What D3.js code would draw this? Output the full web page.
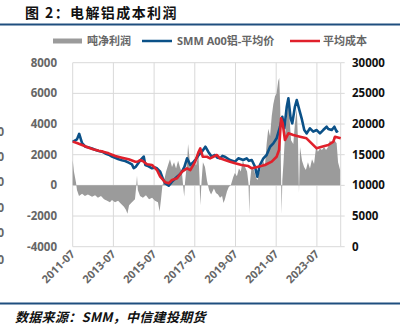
<!DOCTYPE html>
<html><head><meta charset="utf-8">
<script src="https://cdn.jsdelivr.net/npm/d3@7"></script>
<style>
html,body{margin:0;padding:0;background:#fff;}
svg{display:block;}
text{font-family:"Open Sans","Noto Sans CJK SC",sans-serif;}
</style></head>
<body><svg id="c" width="402" height="335"></svg>
<script>
// ---------- DATA ----------
const title = "图 2：电解铝成本利润";
const source = "数据来源：SMM，中信建投期货";
const seriesNames = ["吨净利润", "SMM A00铝-平均价", "平均成本"];
const xTickLabels = ["2011-07","2013-07","2015-07","2017-07","2019-07","2021-07","2023-07"];
const leftTicks = [8000, 6000, 4000, 2000, 0, -2000, -4000];
const rightTicks = [30000, 25000, 20000, 15000, 10000, 5000, 0];
const xDomain = [2011.5, 2024.67];
const ghostLabels = ["0","0","0","0","0","0"];
const ghostValues = [3500, 1870, 240, -1500, -3130, -4870];

// SMM A00 price (right axis), time in decimal years
const priceDates = [2011.50,2011.71,2011.82,2011.96,2012.12,2012.25,2012.45,2012.60,2012.78,2012.94,2013.10,2013.27,2013.43,2013.58,2013.76,2013.92,2014.08,2014.25,2014.41,2014.50,2014.59,2014.66,2014.78,2014.91,2014.99,2015.07,2015.23,2015.40,2015.54,2015.64,2015.80,2015.94,2016.05,2016.22,2016.38,2016.50,2016.63,2016.77,2016.87,2016.99,2017.12,2017.28,2017.45,2017.56,2017.69,2017.85,2018.02,2018.16,2018.33,2018.49,2018.62,2018.74,2018.86,2018.98,2019.23,2019.48,2019.64,2019.88,2020.05,2020.16,2020.30,2020.46,2020.57,2020.70,2020.87,2021.03,2021.20,2021.36,2021.52,2021.69,2021.80,2021.90,2022.02,2022.10,2022.21,2022.29,2022.42,2022.51,2022.64,2022.75,2022.88,2023.00,2023.16,2023.32,2023.49,2023.65,2023.81,2023.98,2024.06,2024.23,2024.36,2024.47,2024.54];
const priceValues = [17100,17500,18400,16900,16300,16200,16000,15800,15600,15500,15200,15000,14700,14500,14250,14100,13970,13700,13430,12800,13000,13320,13900,14400,14700,13300,13100,12780,12900,12780,12230,11000,10330,9950,10600,11000,11410,11800,12230,13000,14410,13320,13860,14300,14950,15490,16300,15490,14670,14950,14500,14410,14800,14670,14130,13860,14410,14130,14410,14000,14130,13040,11410,13320,14410,14950,16300,16850,17670,19560,21190,19300,22820,24190,20930,20110,22820,23910,22280,20930,19020,18480,19300,18750,19020,18480,19020,19560,19200,19020,19560,18750,18900];

// average cost (right axis)
const costDates = [2011.50,2011.71,2011.96,2012.29,2012.50,2012.78,2012.99,2013.27,2013.59,2013.92,2014.25,2014.58,2014.71,2014.82,2014.99,2015.15,2015.40,2015.64,2015.80,2016.05,2016.22,2016.38,2016.63,2016.87,2017.12,2017.28,2017.52,2017.69,2017.77,2017.89,2018.10,2018.25,2018.41,2018.58,2018.74,2018.98,2019.23,2019.48,2019.80,2020.13,2020.30,2020.62,2020.95,2021.28,2021.52,2021.64,2021.74,2021.82,2021.93,2022.10,2022.34,2022.67,2022.99,2023.24,2023.49,2023.74,2024.06,2024.31,2024.39,2024.67];
const costValues = [17130,16900,16580,16140,15900,15650,15500,15220,14790,14510,14250,13860,13900,14130,13860,13430,13320,12500,11410,10500,10330,10870,11150,12230,12780,12500,13860,15490,16040,14670,14670,14410,14670,14950,14410,14130,13860,13590,13320,13150,12780,13040,13320,13860,14670,15760,20930,20110,17390,18480,18210,17930,17670,16850,16040,16300,16580,17120,17930,17670];

// net profit per tonne (left axis)
const profitDates = [2011.50,2011.56,2011.66,2011.71,2011.81,2011.96,2012.10,2012.25,2012.45,2012.60,2012.74,2012.89,2013.04,2013.19,2013.33,2013.43,2013.58,2013.73,2013.87,2014.02,2014.12,2014.19,2014.27,2014.41,2014.56,2014.62,2014.66,2014.70,2014.81,2014.95,2015.10,2015.25,2015.40,2015.54,2015.69,2015.77,2015.84,2015.91,2015.99,2016.09,2016.18,2016.28,2016.38,2016.48,2016.58,2016.68,2016.77,2016.87,2016.94,2016.98,2017.02,2017.12,2017.17,2017.26,2017.36,2017.46,2017.56,2017.68,2017.73,2017.77,2017.83,2017.90,2018.00,2018.10,2018.20,2018.30,2018.44,2018.54,2018.64,2018.74,2018.84,2018.91,2018.98,2019.08,2019.17,2019.27,2019.39,2019.47,2019.57,2019.67,2019.76,2019.86,2019.97,2020.07,2020.14,2020.18,2020.21,2020.29,2020.41,2020.51,2020.58,2020.66,2020.76,2020.85,2020.95,2021.03,2021.11,2021.20,2021.28,2021.36,2021.44,2021.52,2021.60,2021.65,2021.70,2021.74,2021.77,2021.80,2021.86,2021.93,2022.02,2022.10,2022.15,2022.23,2022.34,2022.42,2022.51,2022.57,2022.62,2022.67,2022.77,2022.87,2022.96,2023.06,2023.16,2023.26,2023.36,2023.46,2023.55,2023.65,2023.75,2023.85,2023.95,2024.05,2024.14,2024.24,2024.31,2024.39,2024.47,2024.54,2024.64];
const profitValues = [1650,900,200,-300,-700,-550,-700,-600,-750,-650,-800,-700,-900,-1000,-1100,-950,-1100,-1000,-1200,-1400,-1600,-1850,-1300,-1100,-900,-100,650,-300,-700,-800,-650,-900,-800,-1000,-1100,-1700,-900,0,300,900,1300,1700,1200,1500,1100,1600,1200,800,-200,-750,200,1500,2700,1500,1200,1600,1300,2000,500,-1300,200,1500,1200,300,-300,-600,-200,-500,-600,-800,-700,-1150,-900,-400,-100,0,550,800,600,1100,900,1600,1200,900,100,-1900,200,1200,1000,500,350,800,1200,1600,1300,2700,3700,3200,4500,5300,5800,6000,6800,7000,5000,500,-1900,300,1500,3200,4500,5600,4500,2950,2700,4000,5000,3000,-500,2500,1600,1200,1000,1500,1100,1700,1400,2500,2200,2400,2300,2500,2300,2500,2950,2700,3170,2900,2740,1500,1000];

// ---------- CHART ----------
const svg = d3.select("#c");
const L = 72.7, R = 340.7, T = 62.7, B = 246.7;
const blue = "#0b5188", red = "#e0202b", gray = "#9b9b9b", grid = "#d9d9d9", dark = "#1f4f7f";

const x = d3.scaleLinear().domain(xDomain).range([L, R]);
const yL = d3.scaleLinear().domain([-4000, 8000]).range([B, T]);
const yR = d3.scaleLinear().domain([0, 30000]).range([B, T]);
const parseTick = s => +s.slice(0,4) + (+s.slice(5,7) - 1) / 12;

// title
svg.append("text").attr("x", 25).attr("y", 18).attr("font-size", 14).attr("font-weight", "bold")
  .attr("letter-spacing", 1.4).attr("fill", "#111")
  .style("font-family", '"Noto Sans CJK SC",sans-serif').text(title);
svg.append("rect").attr("x", 0).attr("y", 23.5).attr("width", 400).attr("height", 2).attr("fill", dark);

// gridlines
const g = svg.append("g");
g.selectAll("line.h").data(leftTicks).join("line")
  .attr("x1", L).attr("x2", R).attr("y1", d => yL(d)).attr("y2", d => yL(d))
  .attr("stroke", grid).attr("stroke-width", 1);
g.selectAll("line.v").data(xTickLabels).join("line")
  .attr("x1", d => x(parseTick(d))).attr("x2", d => x(parseTick(d)))
  .attr("y1", T).attr("y2", B).attr("stroke", grid).attr("stroke-width", 1);
g.append("line").attr("x1", R).attr("x2", R).attr("y1", T).attr("y2", B).attr("stroke", grid);
g.selectAll("line.rt").data(rightTicks).join("line")
  .attr("x1", R).attr("x2", R + 4).attr("y1", d => yR(d)).attr("y2", d => yR(d)).attr("stroke", grid);

// profit area
const profit = profitDates.map((t, i) => ({t, v: profitValues[i]}));
svg.append("path").datum(profit)
  .attr("d", d3.area().x(d => x(d.t)).y0(yL(0)).y1(d => yL(d.v)))
  .attr("fill", gray);

// lines
const price = priceDates.map((t, i) => ({t, v: priceValues[i]}));
const cost = costDates.map((t, i) => ({t, v: costValues[i]}));
const line = d3.line().x(d => x(d.t)).y(d => yR(d.v));
svg.append("path").datum(price).attr("d", line).attr("fill", "none")
  .attr("stroke", blue).attr("stroke-width", 2.6).attr("stroke-linejoin", "round");
svg.append("path").datum(cost).attr("d", line).attr("fill", "none")
  .attr("stroke", red).attr("stroke-width", 2.6).attr("stroke-linejoin", "round");

// left axis labels
svg.selectAll("text.yl").data(leftTicks).join("text")
  .attr("x", 57).attr("y", d => yL(d) + 4).attr("text-anchor", "end")
  .attr("font-size", 11.5).attr("font-weight", "bold").attr("fill", "#666").text(d => d);
// right axis labels
svg.selectAll("text.yr").data(rightTicks).join("text")
  .attr("x", 352).attr("y", d => yR(d) + 4).attr("text-anchor", "start")
  .attr("font-size", 11.5).attr("font-weight", "bold").attr("fill", "#111").text(d => d);
// x labels
svg.selectAll("text.xl").data(xTickLabels).join("text")
  .attr("transform", d => `translate(${x(parseTick(d)) + 3},${B + 8}) rotate(-45)`)
  .attr("text-anchor", "end").attr("font-size", 11).attr("font-weight", "bold").attr("fill", "#666").text(d => d);

// ghost labels at the left edge (cut off in the reference too)
svg.selectAll("text.gh").data(ghostValues).join("text")
  .attr("x", 4).attr("y", d => yL(d) + 4).attr("text-anchor", "end")
  .attr("font-size", 11.5).attr("font-weight", "bold").attr("fill", "#666").text((d, i) => ghostLabels[i]);

// legend
const lg = svg.append("g").attr("font-size", 11).attr("font-weight", "bold").attr("fill", "#666");
lg.append("rect").attr("x", 53).attr("y", 38.5).attr("width", 29).attr("height", 5).attr("fill", gray);
lg.append("text").attr("x", 87).attr("y", 45).text(seriesNames[0]);
lg.append("line").attr("x1", 142).attr("x2", 172).attr("y1", 41).attr("y2", 41).attr("stroke", blue).attr("stroke-width", 2.5);
lg.append("text").attr("x", 177).attr("y", 45).text(seriesNames[1]);
lg.append("line").attr("x1", 290).attr("x2", 320).attr("y1", 41).attr("y2", 41).attr("stroke", red).attr("stroke-width", 2.5);
lg.append("text").attr("x", 323).attr("y", 45).text(seriesNames[2]);

// footer
svg.append("rect").attr("x", 0).attr("y", 302.5).attr("width", 400).attr("height", 2).attr("fill", dark);
svg.append("text").attr("x", 15).attr("y", 322).attr("font-size", 13).attr("font-weight", "bold")
  .attr("font-style", "italic").attr("letter-spacing", 0.3).attr("fill", "#111")
  .style("font-family", '"Noto Sans CJK SC",sans-serif').text(source);
</script></body></html>
